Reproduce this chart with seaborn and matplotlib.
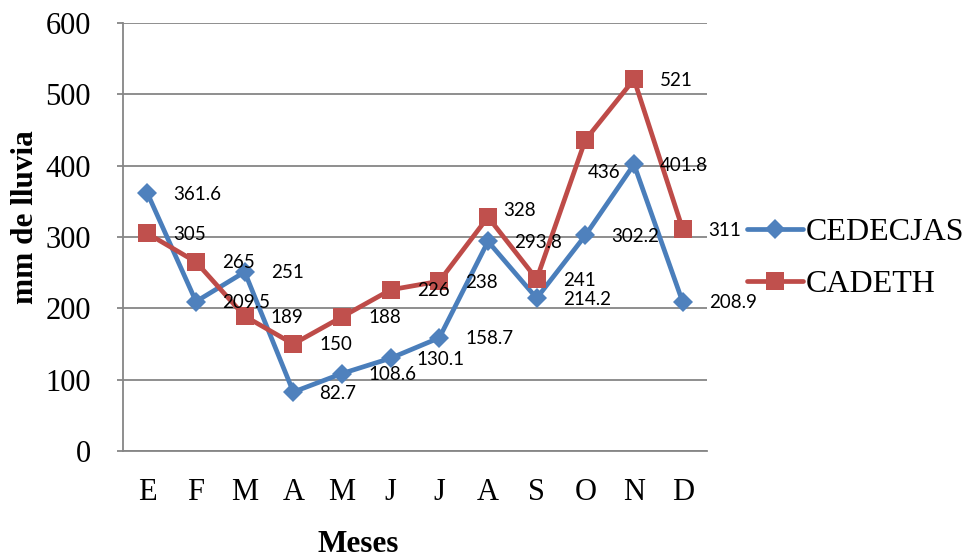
import matplotlib
matplotlib.use("Agg")
import matplotlib.pyplot as plt
import seaborn as sns
import pandas as pd

# Monthly rainfall (mm) at two stations
meses = ["E", "F", "M", "A", "M", "J", "J", "A", "S", "O", "N", "D"]
cedecjas = [361.6, 209.5, 251, 82.7, 108.6, 130.1, 158.7, 293.8, 214.2, 302.2, 401.8, 208.9]
cadeth = [305, 265, 189, 150, 188, 226, 238, 328, 241, 436, 521, 311]
estaciones = ["CEDECJAS", "CADETH"]
y_ticks = [0, 100, 200, 300, 400, 500, 600]

sns.set_theme(style="white")
plt.rcParams["font.family"] = ["Liberation Serif", "DejaVu Serif"]

df = pd.DataFrame({
    "mes": list(range(len(meses))) * 2,
    "lluvia": cedecjas + cadeth,
    "estacion": [estaciones[0]] * len(meses) + [estaciones[1]] * len(meses),
})

fig = plt.figure(figsize=(9.68, 5.58), dpi=100)
ax = fig.add_axes([123 / 968, 1 - 451 / 558, 584 / 968, 428 / 558])

styles = {
    "CEDECJAS": dict(color="#4A7EBB", mfc="#4F81BD", marker="D", ms=10.5),
    "CADETH": dict(color="#BE4B48", mfc="#C0504D", marker="s", ms=13.5),
}

for est in estaciones:
    st = styles[est]
    sub = df[df["estacion"] == est]
    sns.lineplot(data=sub, x="mes", y="lluvia", ax=ax, color=st["color"],
                 marker=st["marker"], markersize=st["ms"], markerfacecolor=st["mfc"],
                 markeredgecolor=st["mfc"], markeredgewidth=0, linewidth=3.4,
                 solid_capstyle="round", solid_joinstyle="round", label=est,
                 zorder=3)

# value labels, placed to the right of each point
label_offsets = {("CADETH", 9): (2, -33), ("CADETH", 7): (15, 7)}
for est, vals in zip(estaciones, [cedecjas, cadeth]):
    for i, v in enumerate(vals):
        dx, dy = label_offsets.get((est, i), (26, -1))
        ax.annotate(f"{v:g}", xy=(i, v), xytext=(dx, dy), textcoords="offset pixels",
                    ha="left", va="center", fontsize=13.5, family="Lato",
                    color="black", zorder=4)

ax.set_xlim(-0.5, len(meses) - 0.5)
ax.set_ylim(0, 600)
ax.set_yticks(y_ticks)
ax.set_xticks(range(len(meses)))
ax.set_xticklabels(meses)

ax.yaxis.grid(True, color="#868686", linewidth=1.3)
ax.xaxis.grid(False)
ax.set_axisbelow(True)
for side in ["top", "right"]:
    ax.spines[side].set_visible(False)
for side in ["left", "bottom"]:
    ax.spines[side].set_color("#868686")
    ax.spines[side].set_linewidth(1.3)

ax.tick_params(axis="y", which="major", left=True, length=4, width=1.3,
               color="#868686", pad=19, labelsize=22, labelcolor="black")
ax.tick_params(axis="x", which="major", bottom=False, pad=13.5, labelsize=22,
               labelcolor="black")

ax.set_xlabel("Meses", fontsize=22.5, fontweight="bold", color="black")
ax.set_ylabel("mm de lluvia", fontsize=22.5, fontweight="bold", color="black")
ax.xaxis.set_label_coords(0.402, -0.185)
ax.yaxis.set_label_coords(-0.142, 0.547)

leg = ax.legend(loc="upper left", bbox_to_anchor=(747 / 968, 1 - 218 / 558),
                bbox_transform=fig.transFigure, frameon=False, fontsize=23,
                handlelength=1.75, handletextpad=0.1, labelspacing=0.7,
                borderpad=0, borderaxespad=0)
for t in leg.get_texts():
    t.set_color("black")

fig.savefig("out.png", dpi=100)
